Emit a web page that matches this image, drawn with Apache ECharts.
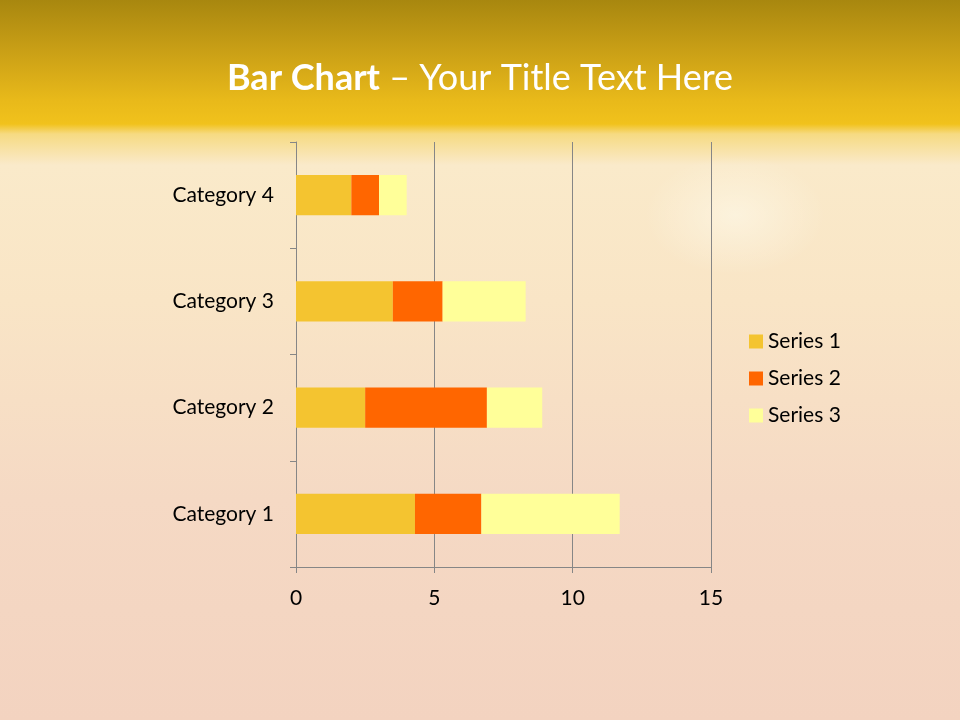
<!DOCTYPE html>
<html>
<head>
<meta charset="utf-8">
<script src="https://cdn.jsdelivr.net/npm/echarts@6/dist/echarts.min.js"></script>
<style>
html,body{margin:0;padding:0;}
#bg{position:absolute;left:0;top:0;width:960px;height:720px;
background:
 radial-gradient(ellipse 90px 60px at 735px 215px, rgba(255,255,245,0.45), rgba(255,255,245,0) 100%),
 linear-gradient(to bottom, #A8870F 0px, #C99F16 50px, #E8B91A 100px, #F1C21C 124px, #F6DA82 134px, #FAEACA 165px, #F9E5C6 300px, #F5D9C4 500px, #F3D3C0 720px);}
#chart{position:absolute;left:0;top:0;width:960px;height:720px;}
</style>
</head>
<body>
<div id="bg"></div>
<div id="chart"></div>
<script>
var categories = ['Category 1', 'Category 2', 'Category 3', 'Category 4'];
var series1 = [4.3, 2.5, 3.5, 2.0];
var series2 = [2.4, 4.4, 1.8, 1.0];
var series3 = [5.0, 2.0, 3.0, 1.0];
var seriesNames = ['Series 1', 'Series 2', 'Series 3'];
var xTicks = [0, 5, 10, 15];

var chart = echarts.init(document.getElementById('chart'), null, {renderer: 'canvas'});
var font = 'Lato, "Open Sans", sans-serif';
var colors = ['#F4C430', '#FF6600', '#FFFF99'];
var data = [series1, series2, series3];
chart.setOption({
  backgroundColor: 'transparent',
  animation: false,
  title: {
    text: '{b|Bar Chart} – Your Title Text Here',
    left: 'center',
    top: 55,
    textStyle: {
      color: '#FFFFFF', fontSize: 36, fontFamily: font, fontWeight: 'normal',
      rich: { b: { color: '#FFFFFF', fontSize: 36, fontFamily: font, fontWeight: 'bold' } }
    }
  },
  legend: {
    orient: 'vertical',
    left: 744,
    top: 326,
    itemWidth: 14,
    itemHeight: 14,
    itemGap: 16,
    icon: 'rect',
    textStyle: { fontSize: 21, fontFamily: font, color: '#000' },
    data: seriesNames
  },
  grid: { left: 296, right: 249, top: 142, bottom: 153, containLabel: false },
  xAxis: {
    type: 'value',
    min: xTicks[0], max: xTicks[xTicks.length - 1], interval: 5,
    axisLine: { show: true, lineStyle: { color: '#868686', width: 1 } },
    axisTick: { show: true, length: 6, lineStyle: { color: '#868686' } },
    splitLine: { show: true, lineStyle: { color: '#868686', width: 1 } },
    axisLabel: { fontSize: 21, fontFamily: font, color: '#000', margin: 21 }
  },
  yAxis: {
    type: 'category',
    data: categories,
    axisLine: { show: true, lineStyle: { color: '#868686', width: 1 } },
    axisTick: { show: true, length: 6, lineStyle: { color: '#868686' } },
    axisLabel: { fontSize: 21, fontFamily: font, color: '#000', margin: 22 }
  },
  series: seriesNames.map(function (n, i) {
    return {
      name: n, type: 'bar', stack: 'total', data: data[i],
      barCategoryGap: '62%',
      itemStyle: { color: colors[i] }
    };
  })
});
</script>
</body>
</html>
